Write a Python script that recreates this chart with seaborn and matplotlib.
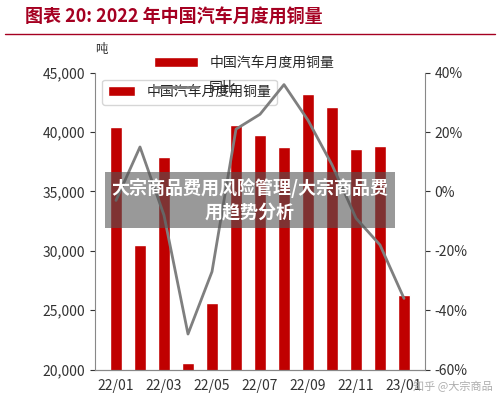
import matplotlib
matplotlib.use("Agg")
import matplotlib.pyplot as plt
import matplotlib.ticker as mticker
import numpy as np
import pandas as pd
import seaborn as sns

months = ["22/01", "22/02", "22/03", "22/04", "22/05", "22/06", "22/07",
          "22/08", "22/09", "22/10", "22/11", "22/12", "23/01"]
copper = [40450, 30500, 37900, 20600, 25600, 40600, 39750,
          38750, 43200, 42100, 38600, 38800, 26300]
yoy = [-3, 15, -8, -48, -27, 21, 26, 36, 24, 9, -9, -18, -36]

sns.set_style("white")
plt.rcParams["font.family"] = ["Noto Sans CJK SC", "DejaVu Sans"]

df = pd.DataFrame({"month": months, "copper": copper, "yoy": yoy})

fig = plt.figure(figsize=(5, 4.04), dpi=100)
ax = fig.add_axes([0.19, 0.085, 0.66, 0.735])
sns.barplot(data=df, x="month", y="copper", color="#c00000", width=0.5,
            saturation=1, ax=ax, label="中国汽车月度用铜量")
ax.set_ylim(20000, 45000)
ax.yaxis.set_major_locator(mticker.MultipleLocator(5000))
ax.yaxis.set_major_formatter(mticker.StrMethodFormatter("{x:,.0f}"))
ax.set_xticks(range(0, 13, 2))
ax.set_xticklabels(months[::2])
ax.set_xlabel("")
ax.set_ylabel("")
ax.tick_params(labelsize=10, colors="#333333")

ax2 = ax.twinx()
ax2.plot(range(13), yoy, color="#7f7f7f", lw=2, label="同比")
ax2.set_ylim(-60, 40)
ax2.yaxis.set_major_locator(mticker.MultipleLocator(20))
ax2.yaxis.set_major_formatter(mticker.FuncFormatter(lambda v, p: f"{v:.0f}%"))
ax2.tick_params(labelsize=10, colors="#333333")

for a in (ax, ax2):
    a.spines["top"].set_visible(False)
    for s in a.spines.values():
        s.set_color("#888888")
ax.spines["right"].set_visible(False)
ax2.spines["left"].set_visible(False)

h1, l1 = ax.get_legend_handles_labels()
h2, l2 = ax2.get_legend_handles_labels()
leg = ax2.legend(h1 + h2, l1 + l2, loc="upper left", bbox_to_anchor=(0.14, 1.1),
                 frameon=False, fontsize=10, handlelength=3.2, labelspacing=0.8)
leg.set_zorder(1)

fig.text(0.19, 0.87, "吨", fontsize=9, color="#333333")
fig.text(0.05, 0.945, "图表 20: 2022 年中国汽车月度用铜量", fontsize=13,
         fontweight="bold", color="#a50021")
fig.add_artist(plt.Line2D([0.01, 0.99], [0.915, 0.915], color="#a50021", lw=1))

fig.text(0.5, 0.505, "大宗商品费用风险管理/大宗商品费\n用趋势分析", ha="center",
         va="center", fontsize=13, fontweight="bold", color="white",
         linespacing=1.35,
         bbox=dict(boxstyle="square,pad=0.35", fc="#555555", ec="none", alpha=0.6))
fig.text(0.985, 0.035, "知乎 @大宗商品", fontsize=8, color="#999999", alpha=0.8,
         ha="right")

fig.savefig("out.png", dpi=100)
